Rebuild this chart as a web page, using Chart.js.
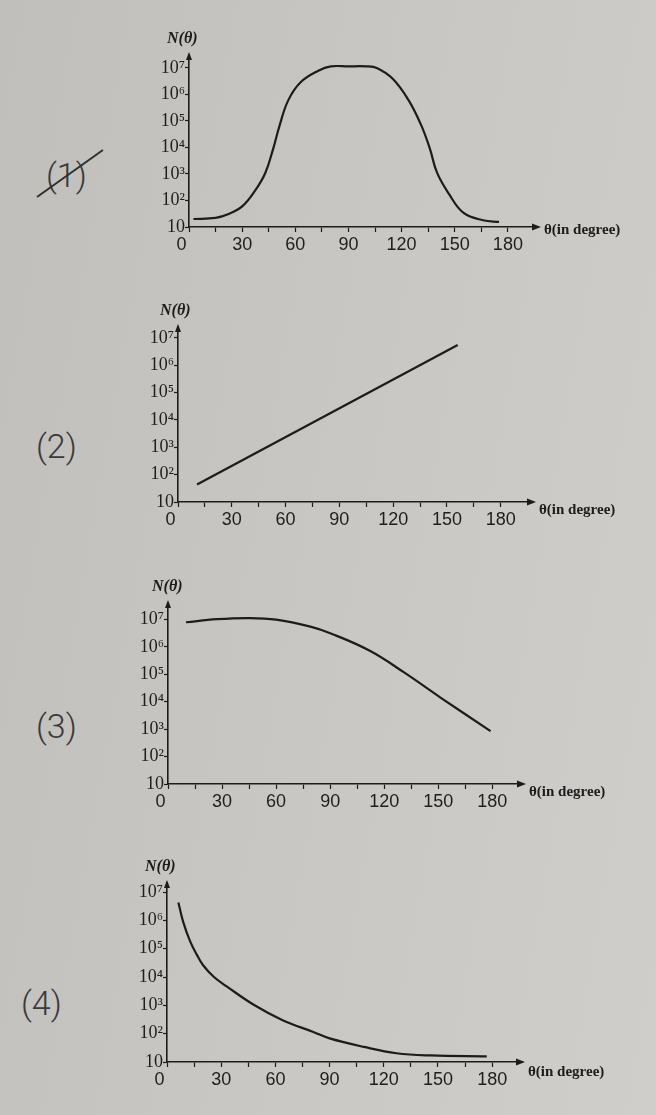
<!DOCTYPE html>
<html><head><meta charset="utf-8">
<script src="https://cdn.jsdelivr.net/npm/chart.js@4.4.1/dist/chart.umd.min.js"></script>
<style>
html,body{margin:0;padding:0;}
body{width:656px;height:1115px;position:relative;overflow:hidden;background:linear-gradient(100deg,#c0bfbb 0%,#c8c7c3 50%,#cfcecb 100%);}
canvas{position:absolute;}
.pl{position:absolute;font-family:Roboto,"Noto Sans",sans-serif;font-weight:300;font-size:34px;color:#3a3a3a;line-height:1;}
.strike{position:absolute;height:2px;background:#2f2f2f;transform-origin:0 50%;}
</style></head><body>
<div class="pl" style="left:46px;top:158px;">(1)</div>
<div class="strike" style="left:37px;top:196px;width:81px;transform:rotate(-35.5deg);"></div>
<div class="pl" style="left:36px;top:429px;">(2)</div>
<div class="pl" style="left:36px;top:709px;">(3)</div>
<div class="pl" style="left:21px;top:986px;">(4)</div>
<canvas id="c1"></canvas>
<canvas id="c2"></canvas>
<canvas id="c3"></canvas>
<canvas id="c4"></canvas>
<script>
// ---- data ----
const xTickValues = [0,15,30,45,60,75,90,105,120,135,150,165,180];
const xLabelValues = [0,30,60,90,120,150,180];
const yTickValues = [10,100,1000,10000,100000,1000000,10000000];
const yTickLabels = ['10','10\u00B2','10\u00B3','10\u2074','10\u2075','10\u2076','10\u2077'];

const theta1 = [2.5,15,22,30,37,43,47.5,51,56,63,73,80,90,100,106,115,124,131,136,140,147,155,166,175];
const n1 = [20,22,30,60,220,1070,8900,63000,600000,2900000,7900000,11500000,11500000,11500000,10000000,3900000,600000,71000,8900,1120,166,34,18,15.5];

const theta2 = [10.6,156];
const n2 = [44,5500000];

const theta3 = [10,27,45,60,79,90,112,131,151,179];
const n3 = [7900000,10200000,11200000,9800000,5500000,3160000,720000,117000,14500,850];

const theta4 = [6.3,9,12.7,16.4,20,26,33,48,64,81,90,109,127,146,177];
const n4 = [4270000,870000,190000,63000,26000,10000,4700,1050,300,115,68,34,20.4,17,15.8];

// ---- layout (positions only) ----
const CANVAS_LEFT = 120, CANVAS_RIGHT = 650, PAD_TOP = 35, XH = 32;
const panels = [
  {id:'c1', theta:theta1, n:n1, left:189, right:538, top:55,  bottom:227, yMaxExp:7.49, xMax:197, nOff:-22, tOff:3},
  {id:'c2', theta:theta2, n:n2, left:178, right:533, top:327, bottom:502, yMaxExp:7.40, xMax:198, nOff:-18, tOff:8},
  {id:'c3', theta:theta3, n:n3, left:168, right:523, top:603, bottom:784, yMaxExp:7.60, xMax:197, nOff:-16, tOff:8},
  {id:'c4', theta:theta4, n:n4, left:167, right:522, top:883, bottom:1062, yMaxExp:7.32, xMax:196.5, nOff:-22, tOff:10}
];

const INK = '#1c1c1c';

const decor = {
  id:'decor',
  afterDraw(chart){
    const p = chart.options.plugins.decor;
    const {left,right,top,bottom} = chart.chartArea;
    const ctx = chart.ctx;
    ctx.save();
    ctx.fillStyle = INK;
    ctx.beginPath();
    ctx.moveTo(right+3, bottom);
    ctx.lineTo(right-6, bottom-3.5);
    ctx.lineTo(right-6, bottom+3.5);
    ctx.closePath(); ctx.fill();
    ctx.beginPath();
    ctx.moveTo(left, top-3);
    ctx.lineTo(left-3, top+5);
    ctx.lineTo(left+3, top+5);
    ctx.closePath(); ctx.fill();
    ctx.font = 'italic bold 16px "Liberation Serif", serif';
    ctx.textBaseline = 'middle';
    ctx.textAlign = 'left';
    ctx.fillText('N(\u03B8)', left + p.nOff, top - 16);
    ctx.font = 'bold 15px "Liberation Serif", serif';
    ctx.fillText('\u03B8(in degree)', right + 6, bottom + p.tOff);
    ctx.restore();
  }
};

panels.forEach(pn => {
  const cv = document.getElementById(pn.id);
  const w = CANVAS_RIGHT - CANVAS_LEFT;
  const h = (pn.bottom - pn.top) + PAD_TOP + XH;
  cv.width = w; cv.height = h;
  cv.style.left = CANVAS_LEFT + 'px';
  cv.style.top = (pn.top - PAD_TOP) + 'px';
  cv.style.width = w + 'px'; cv.style.height = h + 'px';
  const pts = pn.theta.map((t,i) => ({x:t, y:pn.n[i]}));
  new Chart(cv, {
    type:'line',
    data:{datasets:[{data:pts, borderColor:INK, borderWidth:2.2, pointRadius:0, fill:false, tension:0.4}]},
    options:{
      responsive:false, animation:false, devicePixelRatio:1,
      layout:{padding:{top:PAD_TOP, right:CANVAS_RIGHT - pn.right, left:0, bottom:0}},
      plugins:{legend:{display:false}, tooltip:{enabled:false}, decor:{nOff:pn.nOff, tOff:pn.tOff}},
      scales:{
        x:{type:'linear', min:0, max:pn.xMax,
          afterBuildTicks: s => { s.ticks = xTickValues.map(v => ({value:v})); },
          afterFit: s => { s.height = XH; },
          grid:{drawOnChartArea:false, drawTicks:true, tickLength:5, tickColor:INK, tickWidth:1.2},
          border:{display:true, color:INK, width:1.6},
          ticks:{autoSkip:false, maxRotation:0, padding:2, color:'#1e1e1e',
            font:{family:'"Liberation Sans", Arial, sans-serif', size:18},
            callback: v => v === 0 ? '0   ' : (xLabelValues.includes(v) ? String(v) : '')}
        },
        y:{type:'logarithmic', min:10, max:Math.pow(10, pn.yMaxExp),
          afterBuildTicks: s => { s.ticks = yTickValues.map(v => ({value:v})); },
          afterFit: s => { s.width = pn.left - CANVAS_LEFT; },
          grid:{drawOnChartArea:false, drawTicks:true, tickLength:4, tickColor:INK, tickWidth:1.2},
          border:{display:true, color:INK, width:1.6},
          ticks:{autoSkip:false, padding:0, color:'#1e1e1e',
            font:{family:'"Liberation Serif", "DejaVu Serif", serif', size:18},
            callback: v => { const i = yTickValues.indexOf(v); return i >= 0 ? yTickLabels[i] : ''; }}
        }
      }
    },
    plugins:[decor]
  });
});
</script>
</body></html>
